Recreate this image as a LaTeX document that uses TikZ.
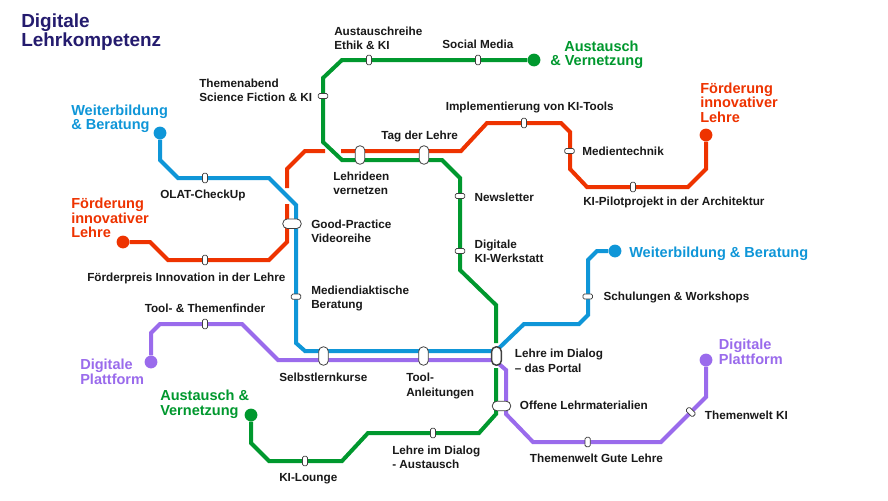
\documentclass[tikz,border=0pt]{standalone}
\usepackage{fontspec}
\setmainfont{Liberation Sans}
\definecolor{lred}{HTML}{EE3300}
\definecolor{lblue}{HTML}{0F96D8}
\definecolor{lgreen}{HTML}{00982E}
\definecolor{lpurple}{HTML}{9A6BEC}
\definecolor{ltitle}{HTML}{241B6E}
\newcommand{\twol}[2]{\vtop{\hbox{#1}\hbox{#2}}}
\newcommand{\threel}[3]{\vtop{\hbox{#1}\hbox{#2}\hbox{#3}}}
\tikzset{
  metro/.style={line width=3pt,line join=miter},
  lab/.style={anchor=base west,inner sep=0pt,font=\fontsize{8.8}{10.75}\selectfont\bfseries,text=black!90},
  head/.style={anchor=base west,inner sep=0pt,font=\fontsize{10.9}{10.9}\selectfont\bfseries},
  stop/.style={draw=black!75,fill=white,line width=0.55pt,rounded corners=1.1pt,inner sep=0pt},
  stopv/.style={stop,minimum width=3.9pt,minimum height=7.2pt},
  stoph/.style={stop,minimum width=7.2pt,minimum height=3.9pt},
  bigv/.style={draw=black!75,fill=white,line width=0.6pt,rounded corners=3.4pt,inner sep=0pt,minimum width=7.2pt,minimum height=13.8pt},
  bigh/.style={draw=black!75,fill=white,line width=0.6pt,rounded corners=3.4pt,inner sep=0pt,minimum width=13.8pt,minimum height=7.2pt},
  term/.style={circle,inner sep=0pt,minimum size=9.6pt}
}
\begin{document}
\begin{tikzpicture}[x=0.75pt,y=-0.75pt]
\useasboundingbox (0,0) rectangle (888,500);
\fill[white] (0,0) rectangle (888,500);
% terminals
\node[term,fill=lgreen] (gA) at (534,60) {};
\node[term,fill=lgreen] (gB) at (251,415) {};
\node[term,fill=lred] (rA) at (706,135) {};
\node[term,fill=lred] (rB) at (123,242) {};
\node[term,fill=lblue] (bA) at (160,133) {};
\node[term,fill=lblue] (bB) at (615,251) {};
\node[term,fill=lpurple] (pA) at (151,362) {};
\node[term,fill=lpurple] (pB) at (706,360) {};
% lines
\draw[metro,lgreen] (gA) -- (342,60) -- (323,78) -- (323,142) -- (342,160) -- (442,160) -- (460,178) -- (460,270) -- (496,305) -- (496,343);
\draw[metro,lgreen] (496,368) -- (496,414) -- (479,433) -- (368,433) -- (342,461) -- (269,461) -- (251,443) -- (gB);
\draw[metro,lred] (rA) -- (706,169) -- (688,187) -- (587,187) -- (570,169) -- (570,132) -- (561,123) -- (487,123) -- (461,151) -- (341,151);
\draw[metro,lred] (325,151) -- (305,151) -- (287,169) -- (287,188);
\draw[metro,lred] (287,204) -- (287,242) -- (269,260) -- (168,260) -- (150,242) -- (rB);
\draw[metro,lblue] (bA) -- (160,160) -- (178,178) -- (269,178) -- (296,205) -- (296,343) -- (305,351) -- (494,351);
\draw[metro,lblue] (498,349) -- (524,324) -- (579,324) -- (588,315) -- (588,260) -- (597,251) -- (bB);
\draw[metro,lpurple] (pA) -- (151,333) -- (160,324) -- (242,324) -- (278,360) -- (494,360);
\draw[metro,lpurple] (499,364) -- (506,370) -- (506,414) -- (533,442) -- (661,442) -- (706,397) -- (pB);
% stations
\node[stopv] (s1) at (369,60) {};
\node[stopv] (s2) at (478,60) {};
\node[stopv] (s3) at (205,178) {};
\node[stopv] (s4) at (205,260) {};
\node[stopv] (s5) at (205,324) {};
\node[stopv] (s6) at (305,461) {};
\node[stopv] (s7) at (433,433) {};
\node[stopv] (s8) at (524,123) {};
\node[stopv] (s9) at (633,187) {};
\node[stopv] (s10) at (587.7,442) {};
\node[stoph] (s11) at (323,96) {};
\node[stoph] (s12) at (569.5,151) {};
\node[stoph] (s13) at (460,196) {};
\node[stoph] (s14) at (460,251) {};
\node[stoph] (s15) at (296,296.7) {};
\node[stoph] (s16) at (587.7,296.5) {};
\node[stopv,rotate=45] (s17) at (690.7,412) {};
\node[bigv] (h1) at (360,155) {};
\node[bigv] (h2) at (424,155) {};
\node[bigh] (h3) at (292,223.7) {};
\node[bigv] (h4) at (323.5,356) {};
\node[bigv] (h5) at (423.5,356) {};
\node[bigv,line width=1.1pt] (h6) at (496.5,356) {};
\node[bigh] (h7) at (501.5,406) {};
% headings
\node[anchor=base west,inner sep=0pt,font=\fontsize{14.2}{14.1}\selectfont\bfseries,text=ltitle] (t0) at (21,27.7) {\twol{Digitale}{Lehrkompetenz}};
\node[head,text=lblue] (t1) at (71,115) {\twol{Weiterbildung}{\& Beratung}};
\node[head,text=lred] (t2) at (71,208.5) {\threel{Förderung}{innovativer}{Lehre}};
\node[head,text=lgreen] (t3) at (550,51) {\twol{\kern10.5pt\relax Austausch}{\& Vernetzung}};
\node[head,text=lred] (t4) at (700,93.2) {\threel{Förderung}{innovativer}{Lehre}};
\node[head,text=lblue] (t5) at (629,257) {Weiterbildung \& Beratung};
\node[head,text=lpurple] (t6) at (80,369.5) {\twol{Digitale}{Plattform}};
\node[head,text=lgreen] (t7) at (160,400.5) {\twol{Austausch \&}{Vernetzung}};
\node[head,text=lpurple] (t8) at (718.7,349.5) {\twol{Digitale}{Plattform}};
% labels
\node[lab] (l1) at (334,35) {\twol{Austauschreihe}{Ethik \& KI}};
\node[lab] (l2) at (199,87) {\twol{Themenabend}{Science Fiction \& KI}};
\node[lab] (l3) at (160,198.7) {OLAT-CheckUp};
\node[lab] (l4) at (333,180) {\twol{Lehrideen}{vernetzen}};
\node[lab] (l5) at (381,139.3) {Tag der Lehre};
\node[lab] (l6) at (311,228) {\twol{Good-Practice}{Videoreihe}};
\node[lab] (l7) at (442,48) {Social Media};
\node[lab] (l8) at (445.5,110) {Implementierung von KI-Tools};
\node[lab] (l9) at (582,155.3) {Medientechnik};
\node[lab] (l10) at (583,205.7) {KI-Pilotprojekt in der Architektur};
\node[lab] (l11) at (474.3,201) {Newsletter};
\node[lab] (l12) at (474.3,248.3) {\twol{Digitale}{KI-Werkstatt}};
\node[lab] (l13) at (87,281) {Förderpreis Innovation in der Lehre};
\node[lab] (l14) at (311,294.3) {\twol{Mediendiaktische}{Beratung}};
\node[lab] (l15) at (144.5,312.7) {Tool- \& Themenfinder};
\node[lab] (l16) at (279,381.7) {Selbstlernkurse};
\node[lab] (l17) at (406,381.7) {\twol{Tool-}{Anleitungen}};
\node[lab] (l18) at (279,481.7) {KI-Lounge};
\node[lab] (l19) at (392,454) {\twol{Lehre im Dialog}{- Austausch}};
\node[lab] (l20) at (603.3,300) {Schulungen \& Workshops};
\node[lab] (l21) at (514.7,357.7) {\twol{Lehre im Dialog}{– das Portal}};
\node[lab] (l22) at (519.7,409.3) {Offene Lehrmaterialien};
\node[lab] (l23) at (529.7,462) {Themenwelt Gute Lehre};
\node[lab] (l24) at (704.7,419.7) {Themenwelt KI};
\end{tikzpicture}
\end{document}
